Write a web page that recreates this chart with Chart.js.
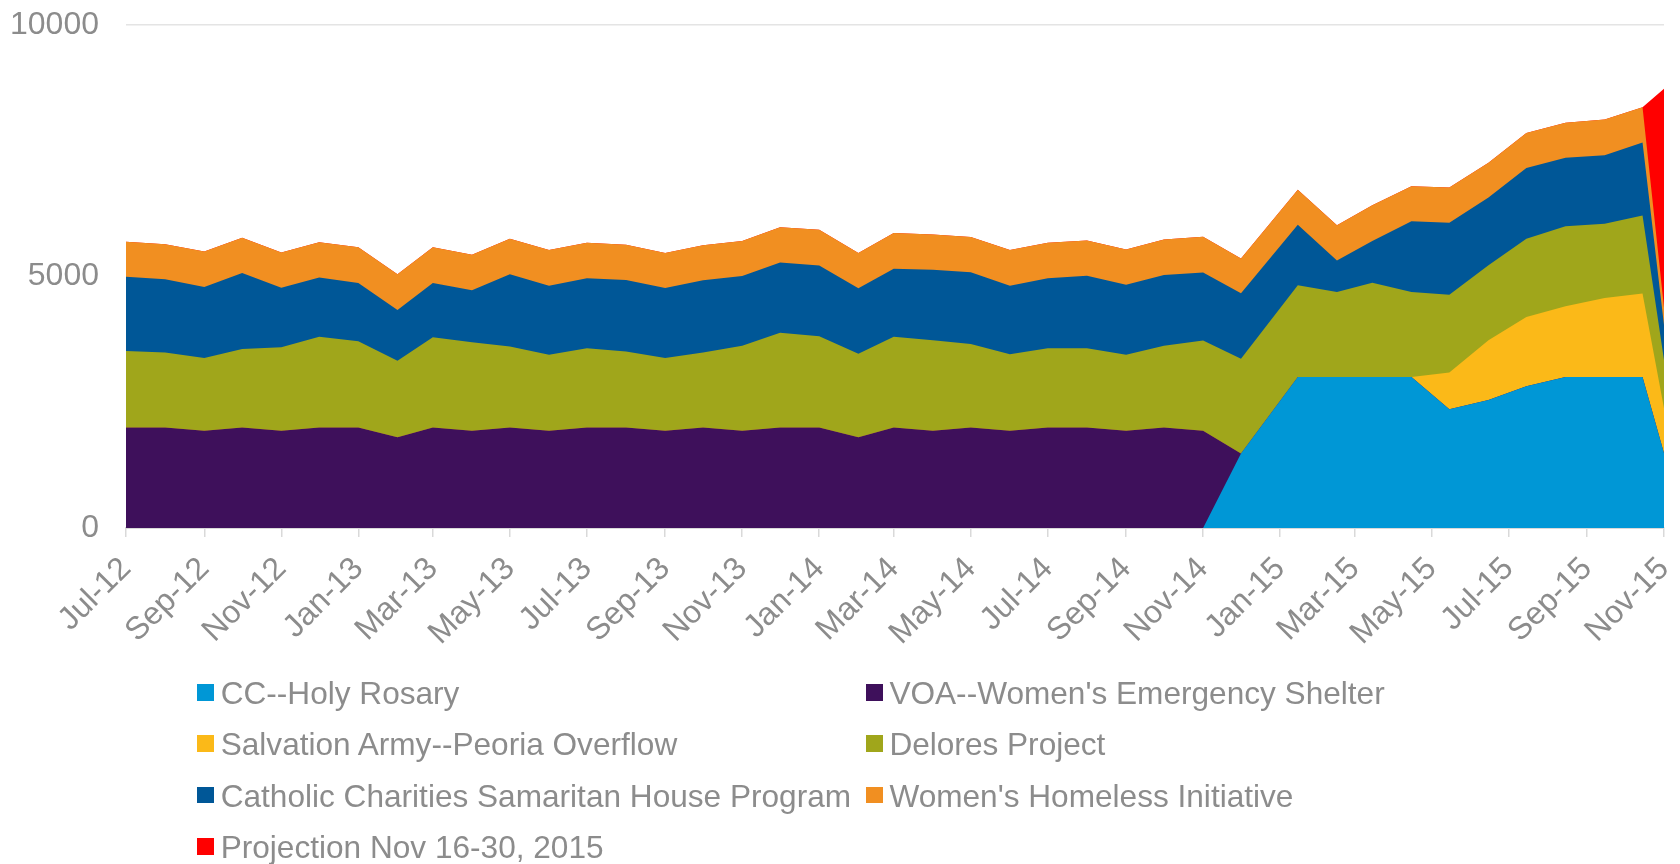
<!DOCTYPE html>
<html>
<head>
<meta charset="utf-8">
<script src="https://cdn.jsdelivr.net/npm/chart.js@4.4.1/dist/chart.umd.min.js"></script>
<style>
  body { margin: 0; background: #fff; }
  #wrap { position: relative; width: 1680px; height: 864px; }
  #legend { position: absolute; left: 0; top: 0; width: 1680px; height: 864px; pointer-events: none;
    font-family: "Liberation Sans", Arial, sans-serif; font-size: 31.6px; color: #8c8c8c; }
  .item { position: absolute; height: 31px; line-height: 31px; white-space: nowrap; }
  .box { position: absolute; left: 0; top: 6px; width: 16.5px; height: 16.5px; }
  .txt { position: absolute; left: 23.4px; top: 0; }
</style>
</head>
<body>
<div id="wrap">
  <canvas id="chart"></canvas>
  <div id="legend"></div>
</div>
<script>
// reporting dates of each point (2015 figures are mid-month, last one is Nov 1-15 + projection)
const periods = [
  "2012-07-01", "2012-08-01", "2012-09-01", "2012-10-01", "2012-11-01", "2012-12-01",
  "2013-01-01", "2013-02-01", "2013-03-01", "2013-04-01", "2013-05-01", "2013-06-01",
  "2013-07-01", "2013-08-01", "2013-09-01", "2013-10-01", "2013-11-01", "2013-12-01",
  "2014-01-01", "2014-02-01", "2014-03-01", "2014-04-01", "2014-05-01", "2014-06-01",
  "2014-07-01", "2014-08-01", "2014-09-01", "2014-10-01", "2014-11-01", "2014-12-01",
  "2015-01-15", "2015-02-15", "2015-03-15", "2015-04-15", "2015-05-15", "2015-06-15",
  "2015-07-15", "2015-08-15", "2015-09-15", "2015-10-15", "2015-11-01"
];

const tickLabels = [
  "Jul-12", "Sep-12", "Nov-12", "Jan-13", "Mar-13", "May-13", "Jul-13", "Sep-13",
  "Nov-13", "Jan-14", "Mar-14", "May-14", "Jul-14", "Sep-14", "Nov-14", "Jan-15",
  "Mar-15", "May-15", "Jul-15", "Sep-15", "Nov-15"
];

const seriesNames = [
  "CC--Holy Rosary",
  "VOA--Women's Emergency Shelter",
  "Salvation Army--Peoria Overflow",
  "Delores Project",
  "Catholic Charities Samaritan House Program",
  "Women's Homeless Initiative",
  "Projection Nov 16-30, 2015"
];

const holyRosary = [
  0, 0, 0, 0, 0, 0, 0, 0, 0, 0, 0, 0, 0, 0, 0, 0, 0, 0, 0, 0, 0, 0, 0, 0, 0, 0, 0, 0, 0,
  1480, 3000, 3000, 3000, 3000, 2360, 2545, 2820, 3000, 3000, 3000, 1485
];
const voaShelter = [
  2000, 2000, 1935, 2000, 1935, 2000, 2000, 1805, 2000, 1935, 2000, 1935,
  2000, 2000, 1935, 2000, 1935, 2000, 2000, 1805, 2000, 1935, 2000, 1935,
  2000, 2000, 1935, 2000, 1935,
  0, 0, 0, 0, 0, 0, 0, 0, 0, 0, 0, 0
];
const salvationArmy = [
  0, 0, 0, 0, 0, 0, 0, 0, 0, 0, 0, 0, 0, 0, 0, 0, 0, 0, 0, 0, 0, 0, 0, 0, 0, 0, 0, 0, 0,
  0, 0, 0, 0, 0, 730, 1190, 1375, 1410, 1575, 1660, 895
];
const delores = [
  1520, 1490, 1445, 1560, 1660, 1800, 1715, 1520, 1790, 1760, 1610, 1510,
  1575, 1510, 1445, 1490, 1690, 1880, 1810, 1660, 1800, 1800, 1660, 1520,
  1575, 1575, 1510, 1625, 1795, 1885,
  1825, 1690, 1875, 1690, 1545, 1490, 1555, 1590, 1475, 1555, 960
];
const samaritan = [
  1475, 1455, 1410, 1510, 1180, 1180, 1155, 1010, 1080, 1030, 1435, 1370,
  1390, 1420, 1390, 1435, 1385, 1400, 1410, 1300, 1355, 1400, 1425, 1360,
  1390, 1440, 1390, 1405, 1350, 1300,
  1205, 630, 830, 1410, 1435, 1345, 1405, 1360, 1360, 1450, 695
];
const homelessInit = [
  695, 695, 705, 700, 700, 700, 710, 710, 710, 705, 705, 710,
  705, 700, 695, 695, 695, 700, 710, 700, 710, 700, 700, 710,
  705, 700, 700, 705, 710, 695,
  695, 700, 710, 695, 700, 690, 700, 695, 710, 700, 350
];
const projection = [
  0, 0, 0, 0, 0, 0, 0, 0, 0, 0, 0, 0, 0, 0, 0, 0, 0, 0, 0, 0, 0, 0, 0, 0, 0, 0, 0, 0, 0,
  0, 0, 0, 0, 0, 0, 0, 0, 0, 0, 0, 4350
];

const seriesValues = [holyRosary, voaShelter, salvationArmy, delores, samaritan, homelessInit, projection];
const seriesColors = ["#0097d6", "#3e105b", "#fbb918", "#a0a61b", "#005797", "#f18f21", "#ff0000"];

const monthNames = ["Jan", "Feb", "Mar", "Apr", "May", "Jun", "Jul", "Aug", "Sep", "Oct", "Nov", "Dec"];
const day0 = Date.UTC(2012, 6, 1);
function dayOf(y, m, d) {
  return (Date.UTC(y, m, d) - day0) / 864e5;
}
const xDays = periods.map(s => dayOf(+s.slice(0, 4), +s.slice(5, 7) - 1, +s.slice(8, 10)));
const tickDays = tickLabels.map(t => dayOf(2000 + Number(t.slice(4)), monthNames.indexOf(t.slice(0, 3)), 1));

const fontFamily = "'Liberation Sans', Arial, sans-serif";
const grey = "#8c8c8c";

const datasets = seriesNames.map((name, k) => ({
  label: name,
  data: seriesValues[k].map((v, i) => ({ x: xDays[i], y: v })),
  backgroundColor: seriesColors[k],
  borderColor: seriesColors[k],
  borderWidth: 0,
  pointRadius: 0,
  tension: 0,
  fill: "origin"
}));

new Chart(document.getElementById("chart"), {
  type: "line",
  data: { datasets },
  options: {
    responsive: true,
    maintainAspectRatio: false,
    animation: false,
    layout: { padding: { top: 25, right: 16, left: 0, bottom: 0 } },
    plugins: {
      legend: { display: false },
      tooltip: { enabled: false }
    },
    scales: {
      x: {
        type: "linear",
        min: tickDays[0],
        max: tickDays[tickDays.length - 1],
        afterBuildTicks: ax => { ax.ticks = tickDays.map(v => ({ value: v })); },
        afterFit: ax => { ax.height = 336; ax.paddingLeft = 0; ax.paddingRight = 0; },
        grid: { drawOnChartArea: false, drawTicks: true, tickLength: 9, color: "#d9d9d9", lineWidth: 1.5 },
        border: { display: true, color: "#d9d9d9", width: 2 },
        ticks: {
          autoSkip: false,
          maxRotation: 45,
          minRotation: 45,
          padding: 13,
          color: grey,
          font: { size: 32, family: fontFamily },
          callback: (v, i) => tickLabels[i]
        }
      },
      y: {
        stacked: true,
        min: 0,
        max: 10000,
        afterFit: ax => { ax.width = 126; ax.paddingTop = 0; ax.paddingBottom = 0; },
        ticks: {
          stepSize: 5000,
          padding: 27,
          color: grey,
          font: { size: 32, family: fontFamily },
          callback: v => String(v)
        },
        grid: { drawTicks: false, color: "#e4e4e4", lineWidth: 1.5 },
        border: { display: false }
      }
    }
  }
});

// two-column legend below the plot
const legendCols = [197.3, 866];
const legendRows = [678, 729.3, 780.6, 832];
const legend = document.getElementById("legend");
seriesNames.forEach((name, k) => {
  const item = document.createElement("div");
  item.className = "item";
  item.style.left = legendCols[k % 2] + "px";
  item.style.top = legendRows[Math.floor(k / 2)] + "px";
  item.innerHTML = `<span class="box" style="background:${seriesColors[k]}"></span><span class="txt"></span>`;
  item.querySelector(".txt").textContent = name;
  legend.appendChild(item);
});
</script>
</body>
</html>
